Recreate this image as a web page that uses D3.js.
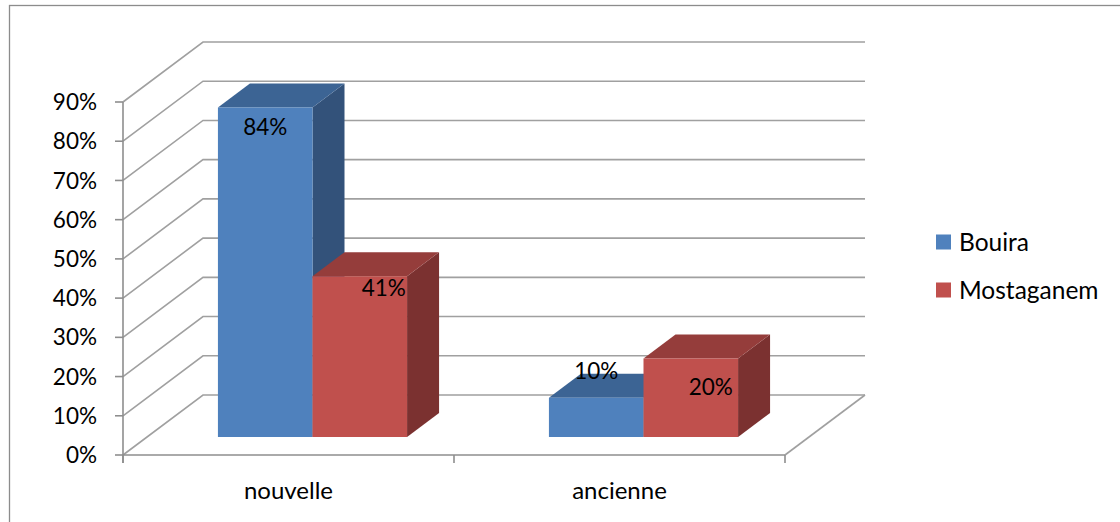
<!DOCTYPE html>
<html>
<head>
<meta charset="utf-8">
<script src="https://cdn.jsdelivr.net/npm/d3@7"></script>
<style>
  html, body { margin: 0; padding: 0; background: #fff; }
  svg { display: block; }
  text { font-family: Lato, "Open Sans", sans-serif; fill: #000; }
</style>
</head>
<body>
<svg id="chart" width="1120" height="522"></svg>
<script>
const categories = ["nouvelle", "ancienne"];
const seriesNames = ["Bouira", "Mostaganem"];
const bouira = [0.84, 0.10];
const mostaganem = [0.41, 0.20];
const valueLabels = [["84%", "10%"], ["41%", "20%"]];
const yTicks = [0, 0.1, 0.2, 0.3, 0.4, 0.5, 0.6, 0.7, 0.8, 0.9];

const seriesValues = [bouira, mostaganem];
const colors = [
  { front: "#4F81BD", top: "#3C6494", side: "#33527A" },
  { front: "#C0504D", top: "#953D3B", side: "#7B3130" }
];

const svg = d3.select("#chart");

// outer border (only top and left visible in frame)
svg.append("rect").attr("x", 9.5).attr("y", 5.5).attr("width", 1200).attr("height", 600)
  .attr("fill", "#fff").attr("stroke", "#8C8C8C").attr("stroke-width", 1.3);

// projection
const DX = 80, DY = -60;          // full depth offset
const y = d3.scaleLinear().domain([0, 0.9]).range([455, 102]);
const x = d3.scaleBand().domain(categories).range([123, 785]).paddingInner(0).paddingOuter(0);
const proj = (px, v, d) => [px + DX * d, y(v) + DY * d];

const grid = svg.append("g").attr("fill", "none").attr("stroke", "#A0A0A0").attr("stroke-width", 1.6);
yTicks.forEach(t => {
  const p0 = proj(x.range()[0], t, 0);
  const p1 = proj(x.range()[0], t, 1);
  const p2 = proj(x.range()[1], t, 1);
  grid.append("path").attr("d", d3.line()([p0, p1, p2]));
});
// floor right edge
grid.append("path").attr("d", d3.line()([proj(x.range()[1], 0, 0), proj(x.range()[1], 0, 1)]));

// axes
const axisG = svg.append("g").attr("stroke", "#8E8E8E").attr("stroke-width", 1.6).attr("fill", "none");
axisG.append("line").attr("x1", 123).attr("x2", 123).attr("y1", y(0.9)).attr("y2", y(0) + 8);
axisG.append("line").attr("x1", 123).attr("x2", x.range()[1]).attr("y1", y(0)).attr("y2", y(0));
yTicks.forEach(t => {
  axisG.append("line").attr("x1", 115).attr("x2", 123).attr("y1", y(t)).attr("y2", y(t));
});
const catEdges = [x.range()[0]].concat(categories.map(c => x(c) + x.bandwidth()));
catEdges.forEach(e => {
  axisG.append("line").attr("x1", e).attr("x2", e).attr("y1", y(0)).attr("y2", y(0) + 8);
});

// y tick labels
svg.append("g").selectAll("text").data(yTicks).join("text")
  .attr("x", 97).attr("y", d => y(d)).attr("dy", "0.36em")
  .attr("text-anchor", "end").attr("font-size", 22.5)
  .text(d => d3.format(".0%")(d));

// category labels
svg.append("g").selectAll("text").data(categories).join("text")
  .attr("x", d => x(d) + x.bandwidth() / 2).attr("y", 490).attr("dy", "0.36em")
  .attr("text-anchor", "middle").attr("font-size", 24)
  .text(d => d);

// bars
const gapWidth = 1.5;
const barW = x.bandwidth() / (seriesNames.length + gapWidth);
const d0 = 0.3, d1 = 0.7;
const bars = svg.append("g");
const barInfo = [];
categories.forEach((c, ci) => {
  seriesNames.forEach((s, si) => {
    const v = seriesValues[si][ci];
    const xl = x(c) + barW * gapWidth / 2 + si * barW;
    const xr = xl + barW;
    const col = colors[si];
    const fbl = proj(xl, 0, d0), fbr = proj(xr, 0, d0), ftl = proj(xl, v, d0), ftr = proj(xr, v, d0);
    const btl = proj(xl, v, d1), btr = proj(xr, v, d1), bbr = proj(xr, 0, d1);
    bars.append("path").attr("d", d3.line()([fbr, ftr, btr, bbr]) + "Z").attr("fill", col.side);
    bars.append("path").attr("d", d3.line()([ftl, ftr, btr, btl]) + "Z").attr("fill", col.top);
    bars.append("path").attr("d", d3.line()([fbl, ftl, ftr, fbr]) + "Z").attr("fill", col.front);
    barInfo.push({ cx: (ftl[0] + ftr[0]) / 2, top: ftl[1], label: valueLabels[si][ci], ci, si });
  });
});

// data label nudges (relative to front-top centre), order: [series][category]
const labelNudge = [[[0, 19], [0, -27]], [[24, 12], [20, 28]]];
svg.append("g").selectAll("text").data(barInfo).join("text")
  .attr("x", d => d.cx + labelNudge[d.si][d.ci][0])
  .attr("y", d => d.top + labelNudge[d.si][d.ci][1]).attr("dy", "0.36em")
  .attr("text-anchor", "middle").attr("font-size", 22.5)
  .text(d => d.label);

// legend
const legend = svg.append("g");
seriesNames.forEach((s, i) => {
  const ly = 242 + i * 48;
  legend.append("rect").attr("x", 936).attr("y", ly - 7.5).attr("width", 15).attr("height", 15)
    .attr("fill", colors[i].front);
  legend.append("text").attr("x", 959).attr("y", ly).attr("dy", "0.36em")
    .attr("font-size", 24.5).text(s);
});
</script>
</body>
</html>
